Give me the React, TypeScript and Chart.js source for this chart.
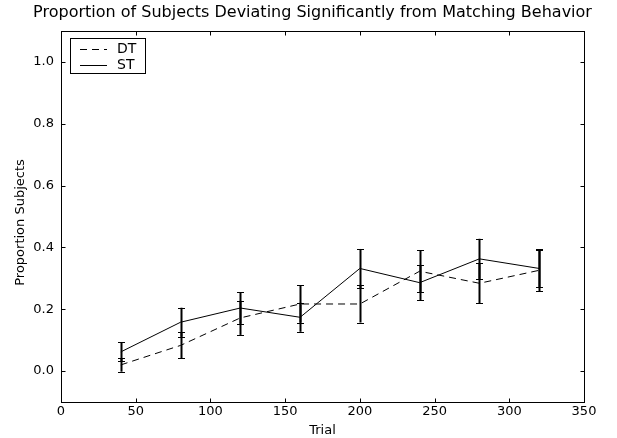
import React, { useEffect, useRef } from 'react';
import { Chart, registerables } from 'chart.js';

Chart.register(...registerables);

const trials = [40, 80, 120, 160, 200, 240, 280, 320];
const dtValues = [0.02, 0.083, 0.172, 0.217, 0.217, 0.323, 0.284, 0.326];
const dtErrors = [0.022, 0.042, 0.055, 0.06, 0.06, 0.068, 0.065, 0.068];
const stValues = [0.062, 0.158, 0.204, 0.174, 0.332, 0.286, 0.363, 0.332];
const stErrors = [0.031, 0.047, 0.051, 0.047, 0.063, 0.056, 0.065, 0.061];
const xTicks = [0, 50, 100, 150, 200, 250, 300, 350];
const yTicks = [0.0, 0.2, 0.4, 0.6, 0.8, 1.0];
const titleText = 'Proportion of Subjects Deviating Significantly from Matching Behavior';
const xLabel = 'Trial';
const yLabel = 'Proportion Subjects';
const seriesNames = ['DT', 'ST'];

const FONT = "'DejaVu Sans', sans-serif";

const errorBarPlugin = {
  id: 'errorBars',
  afterDatasetsDraw(chart: any) {
    const ctx = chart.ctx;
    const xs = chart.scales.x;
    const ys = chart.scales.y;
    const sets = [
      { v: dtValues, e: dtErrors },
      { v: stValues, e: stErrors },
    ];
    ctx.save();
    ctx.strokeStyle = '#000';
    sets.forEach((s) => {
      trials.forEach((t, i) => {
        const x = Math.round(xs.getPixelForValue(t)) + 0.5;
        const y1 = ys.getPixelForValue(s.v[i] + s.e[i]);
        const y2 = ys.getPixelForValue(s.v[i] - s.e[i]);
        ctx.lineWidth = 2;
        ctx.beginPath();
        ctx.moveTo(x, y1);
        ctx.lineTo(x, y2);
        ctx.stroke();
        ctx.lineWidth = 1.2;
        ctx.beginPath();
        ctx.moveTo(x - 3.5, Math.round(y1) + 0.5);
        ctx.lineTo(x + 3.5, Math.round(y1) + 0.5);
        ctx.moveTo(x - 3.5, Math.round(y2) + 0.5);
        ctx.lineTo(x + 3.5, Math.round(y2) + 0.5);
        ctx.stroke();
      });
    });
    ctx.restore();
  },
};

const framePlugin = {
  id: 'frame',
  afterDraw(chart: any) {
    const ctx = chart.ctx;
    const a = chart.chartArea;
    const xs = chart.scales.x;
    const ys = chart.scales.y;
    ctx.save();
    ctx.strokeStyle = '#000';
    ctx.lineWidth = 1;
    const L = Math.round(a.left) + 0.5;
    const R = Math.round(a.right) + 0.5;
    const T = Math.round(a.top) + 0.5;
    const B = Math.round(a.bottom) + 0.5;
    ctx.strokeRect(L, T, R - L, B - T);
    const tl = 4;
    ctx.beginPath();
    xTicks.forEach((v) => {
      const x = Math.round(xs.getPixelForValue(v)) + 0.5;
      ctx.moveTo(x, B);
      ctx.lineTo(x, B - tl);
      ctx.moveTo(x, T);
      ctx.lineTo(x, T + tl);
    });
    yTicks.forEach((v) => {
      const y = Math.round(ys.getPixelForValue(v)) + 0.5;
      ctx.moveTo(L, y);
      ctx.lineTo(L + tl, y);
      ctx.moveTo(R, y);
      ctx.lineTo(R - tl, y);
    });
    ctx.stroke();

    // title
    ctx.fillStyle = '#000';
    ctx.font = `16px ${FONT}`;
    ctx.textAlign = 'center';
    ctx.textBaseline = 'middle';
    ctx.fillText(titleText, (a.left + a.right) / 2 - 10, 13);

    // axis labels
    ctx.font = `13px ${FONT}`;
    ctx.fillText(xLabel, (a.left + a.right) / 2, 431);
    ctx.save();
    ctx.translate(21, (a.top + a.bottom) / 2 + 6);
    ctx.rotate(-Math.PI / 2);
    ctx.fillText(yLabel, 0, 0);
    ctx.restore();

    // legend
    const bx = 70.5, by = 38.5, bw = 75, bh = 35;
    ctx.fillStyle = '#fff';
    ctx.fillRect(bx, by, bw, bh);
    ctx.strokeRect(bx, by, bw, bh);
    ctx.fillStyle = '#000';
    ctx.font = `14px ${FONT}`;
    ctx.textAlign = 'left';
    ctx.textBaseline = 'middle';
    const rows = [48.5, 65];
    rows.forEach((ry, i) => {
      ctx.beginPath();
      ctx.setLineDash(i === 0 ? [7, 5] : []);
      ctx.moveTo(80, Math.round(ry) + 0.5);
      ctx.lineTo(107, Math.round(ry) + 0.5);
      ctx.stroke();
      ctx.setLineDash([]);
      ctx.fillText(seriesNames[i], 117, ry + 0.5);
    });
    ctx.restore();
  },
};

export default function App() {
  const ref = useRef<HTMLCanvasElement | null>(null);
  useEffect(() => {
    document.body.style.margin = '0';
    const canvas = ref.current;
    if (!canvas) return;
    const chart = new Chart(canvas, {
      type: 'line',
      data: {
        datasets: [
          {
            label: seriesNames[0],
            data: trials.map((t, i) => ({ x: t, y: dtValues[i] })),
            borderColor: '#000',
            borderWidth: 1,
            borderDash: [7, 5],
            pointRadius: 0,
            tension: 0,
            fill: false,
          },
          {
            label: seriesNames[1],
            data: trials.map((t, i) => ({ x: t, y: stValues[i] })),
            borderColor: '#000',
            borderWidth: 1,
            pointRadius: 0,
            tension: 0,
            fill: false,
          },
        ],
      },
      plugins: [errorBarPlugin, framePlugin],
      options: {
        responsive: false,
        animation: false,
        events: [],
        layout: { padding: { left: 0, right: 33, top: 31, bottom: 0 } },
        plugins: {
          legend: { display: false },
          title: { display: false },
          tooltip: { enabled: false },
        },
        scales: {
          x: {
            type: 'linear',
            min: 0,
            max: 350,
            afterBuildTicks: (s: any) => {
              s.ticks = xTicks.map((v) => ({ value: v }));
            },
            afterFit: (s: any) => {
              s.height = 36;
            },
            grid: { display: false, drawTicks: false },
            border: { display: false },
            ticks: {
              color: '#000',
              font: { family: FONT, size: 13 },
              padding: 2,
              maxRotation: 0,
              callback: (v: any) => String(v),
            },
          },
          y: {
            type: 'linear',
            min: -0.1,
            max: 1.1,
            afterBuildTicks: (s: any) => {
              s.ticks = yTicks.map((v) => ({ value: v }));
            },
            afterFit: (s: any) => {
              s.width = 61;
            },
            grid: { display: false, drawTicks: false },
            border: { display: false },
            ticks: {
              color: '#000',
              font: { family: FONT, size: 13 },
              padding: 7,
              callback: (v: any) => Number(v).toFixed(1),
            },
          },
        },
      },
    });
    return () => chart.destroy();
  }, []);
  return <canvas ref={ref} width={617} height={438} style={{ display: 'block' }} />;
}
